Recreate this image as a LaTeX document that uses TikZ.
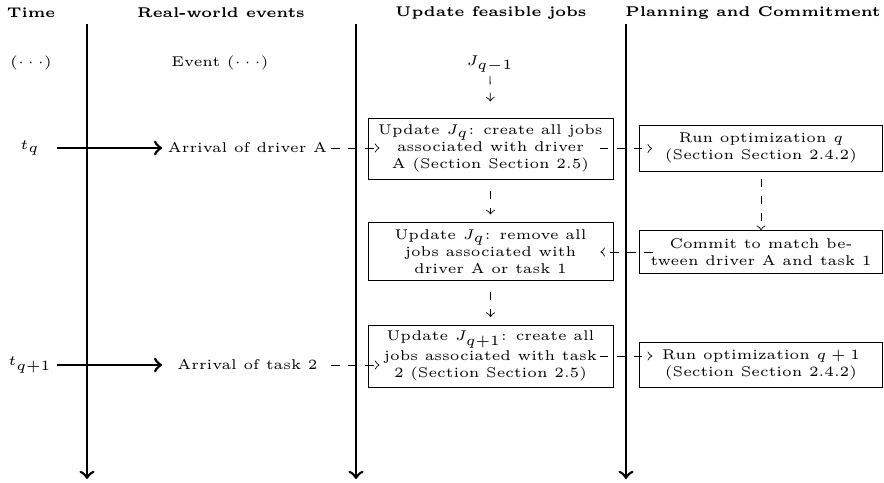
\documentclass[tikz,border=0pt]{standalone}
\begin{document}
\begin{tikzpicture}[x=0.3534pt,y=-0.3534pt,
  hdr/.style={font=\tiny\bfseries, inner sep=0pt},
  lbl/.style={font=\tiny, inner sep=1pt},
  tlbl/.style={font=\tiny, inner sep=0pt, minimum width=19pt},
  evt/.style={font=\tiny, inner sep=0pt, minimum width=56.9pt},
  box/.style={draw, line width=0.3pt, font=\tiny, align=center, inner sep=1pt, minimum width=86.6pt},
  rbox/.style={box, minimum width=85.9pt},
  timeline/.style={line width=0.95pt,->},
  tick/.style={line width=0.95pt,->},
  flow/.style={line width=0.3pt, dashed,->},
  across/.style={flow, shorten <=-4.9pt, shorten >=-4.6pt}]
\useasboundingbox (0,0) rectangle (884,482);

% headers
\node[hdr] (h0) at (31,13) {Time};
\node[hdr] (h1) at (221,13) {Real-world events};
\node[hdr] (h2) at (491,13) {Update feasible jobs};
\node[hdr] (h3) at (753,13) {Planning and Commitment};

% time lines
\coordinate (l1a) at (87,24);  \coordinate (l1b) at (87,479);
\coordinate (l2a) at (356,24); \coordinate (l2b) at (356,479);
\coordinate (l3a) at (626,24); \coordinate (l3b) at (626,479);
\draw[timeline] (l1a) -- (l1b);
\draw[timeline] (l2a) -- (l2b);
\draw[timeline] (l3a) -- (l3b);

% first row
\node[lbl] (dots) at (31,63) {$(\cdots)$};
\node[lbl] (ev) at (220,63) {Event $(\cdots)$};
\node[lbl] (jq1) at (490,64) {$J_{q-1}$};

% times and events
\node[tlbl] (tq) at (30,148) {$t_q$};
\node[evt] (arrA) at (247.5,148) {Arrival of driver A};
\node[tlbl] (tq1) at (30,365) {$t_{q+1}$};
\node[evt] (arrB) at (247.5,365) {Arrival of task 2};

% job update boxes
\node[box, minimum height=21.6pt] (b1) at (490.5,148.5)
  {Update $J_q$: create all jobs\\associated with driver\\A (Section Section~2.5)};
\node[box, minimum height=20.5pt] (b2) at (490.5,251.5)
  {Update $J_q$: remove all\\jobs associated with\\driver A or task 1};
\node[box, minimum height=21.9pt] (b3) at (490.5,356)
  {Update $J_{q+1}$: create all\\jobs associated with task\\2 (Section Section~2.5)};

% planning boxes
\node[rbox, minimum height=16.3pt] (r1) at (761,148)
  {Run optimization $q$\\(Section Section~2.4.2)};
\node[rbox, minimum height=15.2pt] (cm) at (761,252)
  {Commit to match be-\\tween driver A and task 1};
\node[rbox, minimum height=15.9pt] (r2) at (761,364.5)
  {Run optimization $q+1$\\(Section Section~2.4.2)};

% event arrows
\draw[tick, shorten >=1.5pt] (tq.east) -- (arrA.west);
\draw[tick, shorten >=1.5pt] (tq1.east) -- (arrB.west);

% dashed flows
\draw[flow, shorten <=1pt, shorten >=-4.2pt] (arrA.east) -- (arrA.east -| b1.west);
\draw[flow, shorten <=1pt, shorten >=-4.2pt] (arrB.east) -- (arrB.east -| b3.west);
\draw[flow, shorten >=5.7pt] (jq1.south) -- (b1.north);
\draw[flow, shorten <=3.9pt, shorten >=2.7pt] (b1.south) -- (b2.north);
\draw[flow, shorten <=3.9pt, shorten >=2.7pt] (b2.south) -- (b3.north);
\draw[across] (b1.east) -- (b1.east -| r1.west);
\draw[flow, shorten <=2.5pt] (r1.south) -- (cm.north);
\draw[across] (cm.west) -- (cm.west -| b2.east);
\draw[across] (b3.east) -- (b3.east -| r2.west);
\end{tikzpicture}
\end{document}
